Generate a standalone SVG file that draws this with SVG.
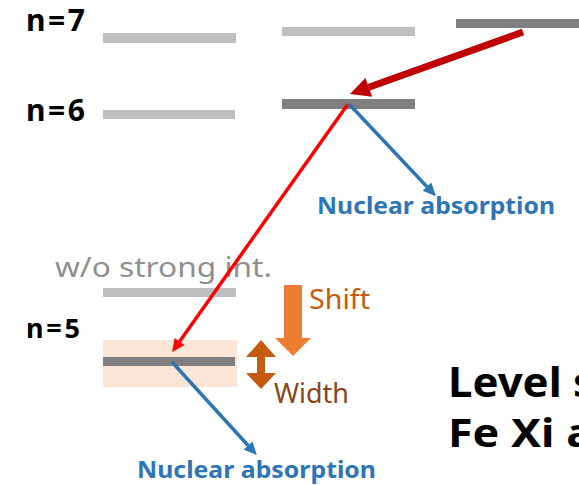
<svg xmlns="http://www.w3.org/2000/svg" width="579" height="485" viewBox="0 0 579 485">
  <style>
    .lite { fill: #BFBFBF; }
    .dark { fill: #7F7F7F; }
    .lbl { font-family: "Noto Sans", "Liberation Sans", sans-serif; font-weight: bold; fill: #000; }
    .nuc { font-family: "Noto Sans", "Liberation Sans", sans-serif; font-weight: bold; fill: #2E75B6; font-size: 23px; }
    .reg { font-family: "Noto Sans", "Liberation Sans", sans-serif; }
  </style>
  <defs>
    <marker id="headDR" markerUnits="userSpaceOnUse" markerWidth="20" markerHeight="20" refX="0" refY="10" orient="auto" viewBox="0 0 20 20" overflow="visible">
      <path d="M0,0 L20,10 L0,20 Z" fill="#C00000"/>
    </marker>
    <marker id="headR" markerUnits="userSpaceOnUse" markerWidth="13" markerHeight="12" refX="0" refY="6" orient="auto" viewBox="0 0 13 12" overflow="visible">
      <path d="M0,0 L13,6 L0,12 Z" fill="#FF0000"/>
    </marker>
    <marker id="headB" markerUnits="userSpaceOnUse" markerWidth="13" markerHeight="12" refX="0" refY="6" orient="auto" viewBox="0 0 13 12" overflow="visible">
      <path d="M0,0 L13,6 L0,12 Z" fill="#2E75B6"/>
    </marker>
  </defs>

  <rect width="579" height="485" fill="#FFFFFF"/>

  <g id="label-n7"><text class="lbl" x="26" y="31" font-size="30" textLength="59" lengthAdjust="spacing">n=7</text></g>
  <g id="label-n6"><text class="lbl" x="26" y="121" font-size="30" textLength="59" lengthAdjust="spacing">n=6</text></g>
  <g id="label-n5"><text class="lbl" x="26" y="338" font-size="27" textLength="54" lengthAdjust="spacing">n=5</text></g>

  <g id="level-n7-a"><rect class="lite" x="103" y="33" width="133" height="10"/></g>
  <g id="level-n7-b"><rect class="lite" x="282" y="27" width="133" height="9"/></g>
  <g id="level-n7-c"><rect class="dark" x="456" y="19" width="123" height="9"/></g>
  <g id="level-n6-a"><rect class="lite" x="103" y="110" width="132" height="9"/></g>
  <g id="level-n6-b"><rect class="dark" x="282" y="99" width="133" height="10"/></g>
  <g id="level-n5-free">
    <rect class="lite" x="103" y="288" width="133" height="9"/>
    <text class="reg" x="55" y="277" font-size="27" fill="#8F8F8F" textLength="217" lengthAdjust="spacingAndGlyphs">w/o strong int.</text>
  </g>
  <g id="level-n5">
    <rect x="103" y="340" width="134" height="47" fill="#FBE5D6"/>
    <rect class="dark" x="103" y="357" width="132" height="9"/>
  </g>

  <g id="shift">
    <polygon points="284,285 302,285 302,338 311,338 293,356 275,338 284,338" fill="#ED7D31"/>
    <text class="reg" x="309" y="309" font-size="28" fill="#C55A11" textLength="61" lengthAdjust="spacingAndGlyphs">Shift</text>
  </g>
  <g id="width">
    <polygon points="261,340 276,357 265,357 265,373 276,373 261,389 246,373 257,373 257,357 246,357" fill="#C55A11"/>
    <text class="reg" x="274" y="403" font-size="28" fill="#8E4416" textLength="75" lengthAdjust="spacingAndGlyphs">Width</text>
  </g>

  <g id="connectors" fill="none">
    <path d="M523,32 L368.8,87.3" stroke="#C00000" stroke-width="7" marker-end="url(#headDR)"/>
    <path d="M348,104 L179.6,341.5" stroke="#FF0000" stroke-width="3.5" marker-end="url(#headR)"/>
    <path d="M349,104 L427,186.7" stroke="#2E75B6" stroke-width="3.5" marker-end="url(#headB)"/>
    <path d="M172,362 L248.1,445.5" stroke="#2E75B6" stroke-width="3.5" marker-end="url(#headB)"/>
  </g>

  <g id="nuclear-upper"><text class="nuc" x="317" y="214" textLength="238" lengthAdjust="spacingAndGlyphs">Nuclear absorption</text></g>
  <g id="nuclear-lower"><text class="nuc" x="137" y="478" textLength="239" lengthAdjust="spacingAndGlyphs">Nuclear absorption</text></g>

  <g id="title">
    <text class="lbl" x="448" y="397" font-size="41" textLength="147" lengthAdjust="spacingAndGlyphs">Level s</text>
    <text class="lbl" x="448" y="447" font-size="40" textLength="145" lengthAdjust="spacingAndGlyphs">Fe Xi a</text>
  </g>
</svg>
